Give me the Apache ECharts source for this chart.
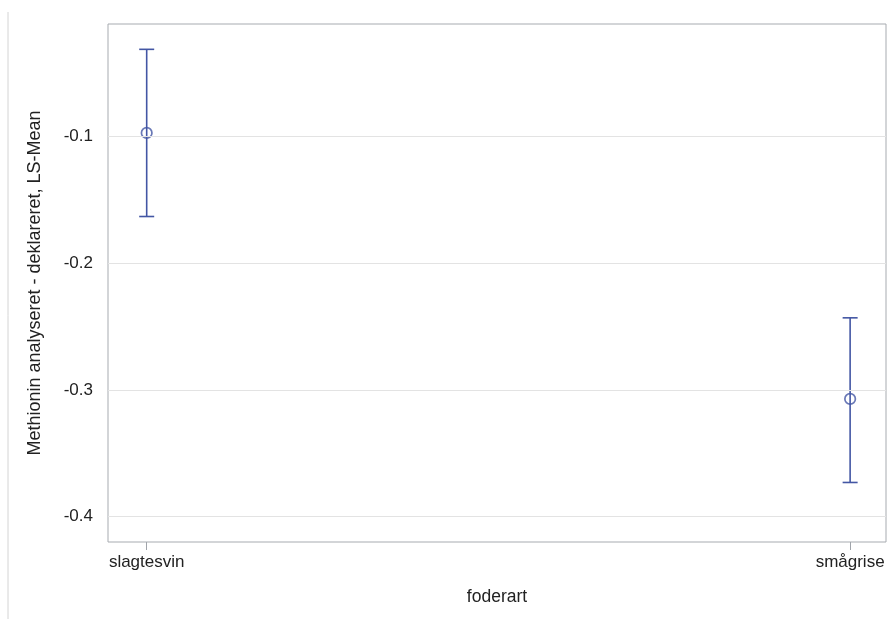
<!DOCTYPE html>
<html>
<head>
<meta charset="utf-8">
<script src="https://cdn.jsdelivr.net/npm/echarts@6/dist/echarts.min.js"></script>
<style>
html,body{margin:0;padding:0;background:#fff;}
#c{width:889px;height:619px;}
</style>
</head>
<body>
<div id="c"></div>
<script>
var categories = ['slagtesvin', 'smågrise'];
var lsMean = [-0.097, -0.307];
var upper = [-0.031, -0.243];
var lower = [-0.163, -0.373];
var yTicks = [-0.4, -0.3, -0.2, -0.1];

var color = '#4356a4';
var font = 'Liberation Sans, Arial, sans-serif';

var errData = categories.map(function (c, i) { return [i, lower[i], upper[i]]; });
var meanData = categories.map(function (c, i) { return [i, lsMean[i]]; });

var chart = echarts.init(document.getElementById('c'), null, {renderer: 'canvas'});
chart.setOption({
  animation: false,
  backgroundColor: '#fff',
  grid: {left: 108, top: 24, right: 3, bottom: 77, show: true, borderColor: '#a7abb0', borderWidth: 1, backgroundColor: 'transparent'},
  xAxis: {
    type: 'value', min: -0.055, max: 1.051,
    name: 'foderart', nameLocation: 'middle', nameGap: 46,
    nameTextStyle: {color: '#222', fontSize: 17.5, fontFamily: font},
    axisLine: {show: false},
    axisTick: {show: true, length: 8, customValues: [0, 1], lineStyle: {color: '#a0a4aa'}},
    axisLabel: {customValues: [0, 1], margin: 12, color: '#222', fontSize: 17, fontFamily: font,
      formatter: function (v) { return categories[Math.round(v)]; }},
    splitLine: {show: false}
  },
  yAxis: {
    type: 'value', min: -0.42, max: -0.011,
    name: 'Methionin analyseret - deklareret, LS-Mean', nameLocation: 'middle', nameGap: 64,
    nameTextStyle: {color: '#222', fontSize: 18, fontFamily: font},
    axisLine: {show: false},
    axisTick: {show: true, length: 8, customValues: yTicks, lineStyle: {color: '#a0a4aa'}},
    axisLabel: {customValues: yTicks, margin: 15, color: '#222', fontSize: 17, fontFamily: font,
      formatter: function (v) { return String(Math.round(v * 10) / 10); }},
    splitLine: {show: false}
  },
  graphic: [{type: 'line', shape: {x1: 8, y1: 12, x2: 8, y2: 619}, style: {stroke: '#d4d4d4', lineWidth: 1}}],
  series: [
    {
      type: 'line', data: [], silent: true,
      markLine: {symbol: 'none', silent: true, label: {show: false},
        lineStyle: {color: '#e3e3e3', type: 'solid', width: 1},
        data: yTicks.map(function (t) { return {yAxis: t}; })}
    },
    {
      type: 'custom',
      renderItem: function (params, api) {
        var x = api.value(0);
        var lo = api.coord([x, api.value(1)]);
        var hi = api.coord([x, api.value(2)]);
        var w = 7.5;
        var st = {stroke: color, lineWidth: 1.6, fill: null};
        return {type: 'group', children: [
          {type: 'line', shape: {x1: lo[0], y1: lo[1], x2: hi[0], y2: hi[1]}, style: st},
          {type: 'line', shape: {x1: lo[0] - w, y1: lo[1], x2: lo[0] + w, y2: lo[1]}, style: st},
          {type: 'line', shape: {x1: hi[0] - w, y1: hi[1], x2: hi[0] + w, y2: hi[1]}, style: st}
        ]};
      },
      data: errData, z: 3
    },
    {
      type: 'scatter', data: meanData, symbol: 'circle', symbolSize: 10.5,
      itemStyle: {color: 'rgba(255,255,255,0)', borderColor: color, borderWidth: 1.7}, z: 4
    }
  ]
});
</script>
</body>
</html>
